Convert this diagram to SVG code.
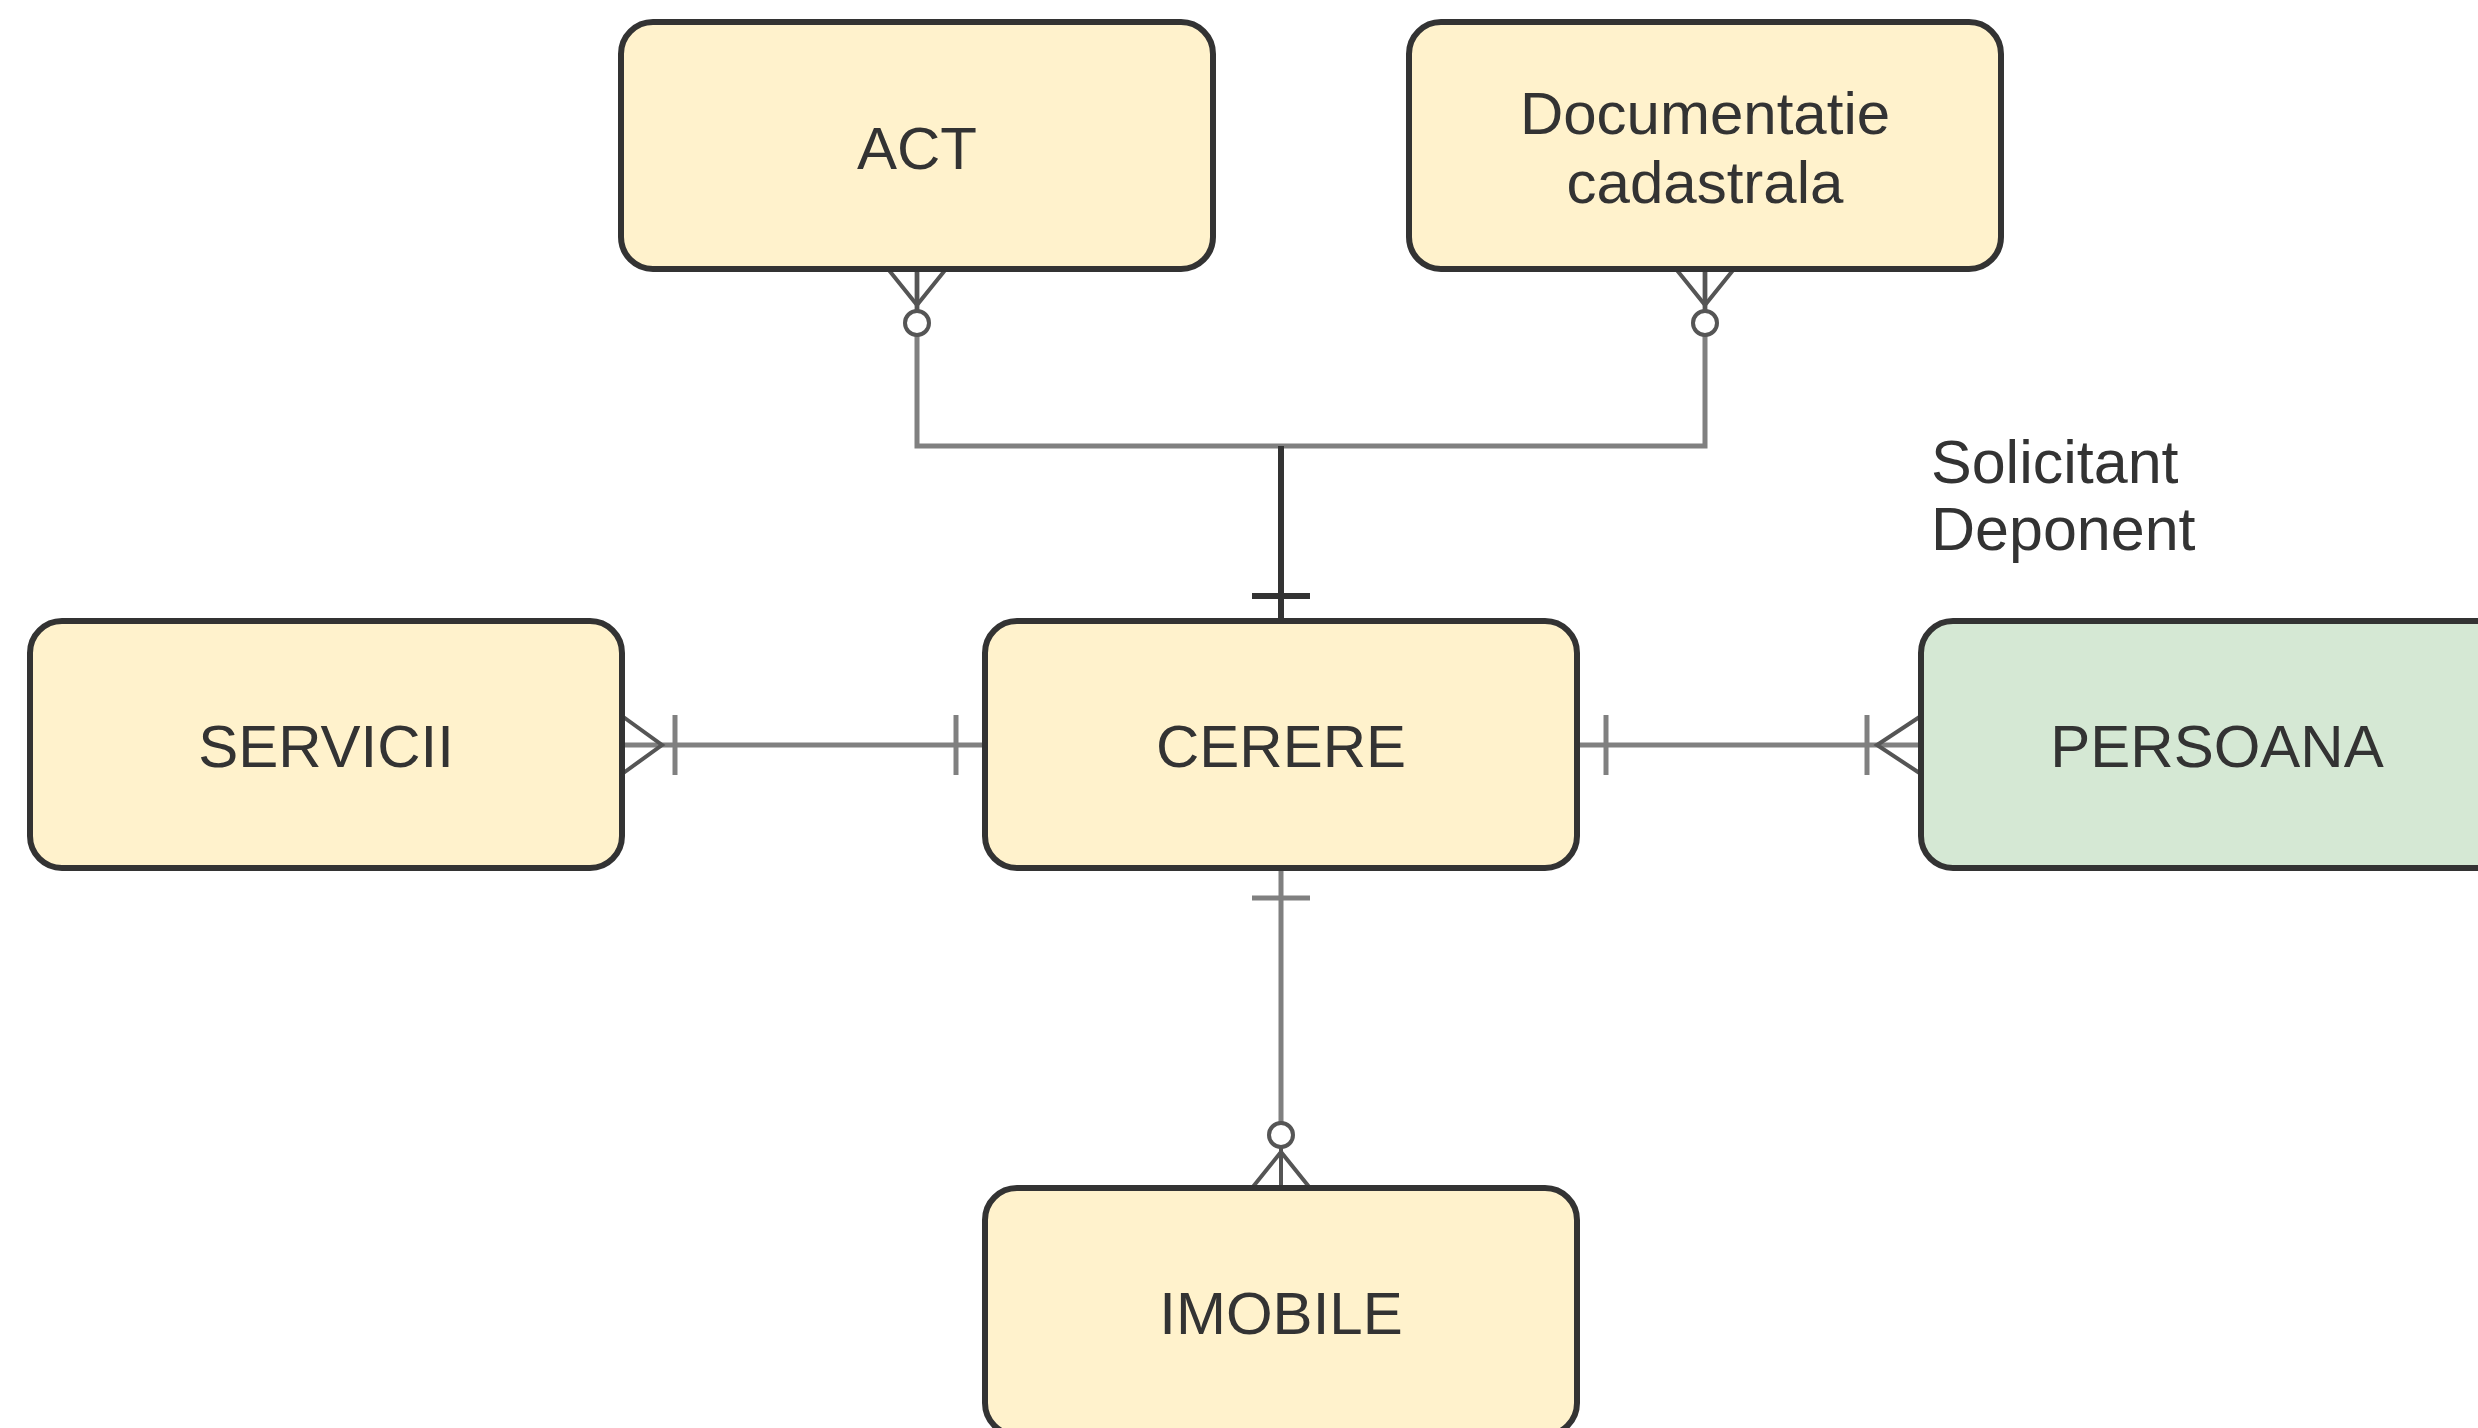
<svg xmlns="http://www.w3.org/2000/svg" width="2478" height="1428" viewBox="0 0 2478 1428">
<style>
.box{stroke:#333333;stroke-width:6}
.y{fill:#FFF2CC}
.g{fill:#D5E8D4}
.t{font-family:"Liberation Sans",Arial,sans-serif;font-size:60px;fill:#333333;text-anchor:middle}
.tl{font-family:"Liberation Sans",Arial,sans-serif;font-size:61px;fill:#333333}
.c{fill:none;stroke:#808080;stroke-width:5}
.cd{fill:none;stroke:#333333;stroke-width:6}
.cf{fill:none;stroke:#555555;stroke-width:4}
.circ{fill:#ffffff;stroke:#555555;stroke-width:4}
</style>
<rect width="2478" height="1428" fill="#ffffff"/>
<g id="connectors">
  <path class="c" d="M917,269 V446 H1281"/>
  <path class="c" d="M1705,269 V446 H1281"/>
  <path class="cd" d="M1281,446 V621"/>
  <path class="cd" d="M1252,596 H1310"/>
  <path class="cf" d="M888,269 L917,305 L946,269 M917,269 V310"/>
  <circle class="circ" cx="917" cy="323" r="12"/>
  <path class="cf" d="M1676,269 L1705,305 L1734,269 M1705,269 V310"/>
  <circle class="circ" cx="1705" cy="323" r="12"/>
  <path class="c" d="M622,745 H985"/>
  <path class="cf" d="M622,716 L662,745 L622,774"/>
  <path class="c" d="M675,715 V775"/>
  <path class="c" d="M956,715 V775"/>
  <path class="c" d="M1577,745 H1921"/>
  <path class="cf" d="M1921,716 L1877,745 L1921,774"/>
  <path class="c" d="M1867,715 V775"/>
  <path class="c" d="M1606,715 V775"/>
  <path class="c" d="M1281,869 V1123"/>
  <path class="c" d="M1252,898 H1310"/>
  <circle class="circ" cx="1281" cy="1135" r="12"/>
  <path class="cf" d="M1252,1188 L1281,1152 L1310,1188 M1281,1147 V1188"/>
</g>
<g id="act">
  <rect class="box y" x="621" y="22" width="592" height="247" rx="32" ry="32"/>
  <text class="t" x="917" y="169">ACT</text>
</g>
<g id="documentatie">
  <rect class="box y" x="1409" y="22" width="592" height="247" rx="32" ry="32"/>
  <text class="t" x="1705" y="134">Documentatie</text>
  <text class="t" x="1705" y="203">cadastrala</text>
</g>
<g id="servicii">
  <rect class="box y" x="30" y="621" width="592" height="247" rx="32" ry="32"/>
  <text class="t" x="326" y="767">SERVICII</text>
</g>
<g id="cerere">
  <rect class="box y" x="985" y="621" width="592" height="247" rx="32" ry="32"/>
  <text class="t" x="1281" y="767">CERERE</text>
</g>
<g id="persoana">
  <rect class="box g" x="1921" y="621" width="592" height="247" rx="32" ry="32"/>
  <text class="t" x="2217" y="767">PERSOANA</text>
</g>
<g id="imobile">
  <rect class="box y" x="985" y="1188" width="592" height="247" rx="32" ry="32"/>
  <text class="t" x="1281" y="1334">IMOBILE</text>
</g>
<g id="label">
  <text class="tl" x="1931" y="483">Solicitant</text>
  <text class="tl" x="1931" y="550">Deponent</text>
</g>
</svg>
